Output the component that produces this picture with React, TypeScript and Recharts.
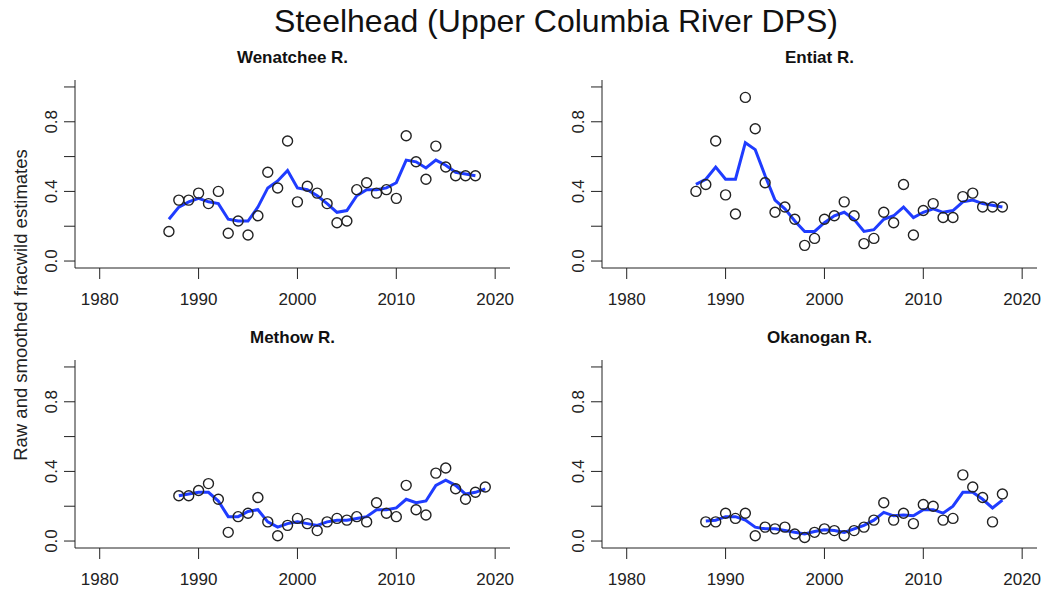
import { ComposedChart, Line, Scatter, XAxis, YAxis } from "recharts";

const FONT = "'Liberation Sans', Arial, sans-serif";

const yearTicks = [1980, 1990, 2000, 2010, 2020];
const valueTicks = [0, 0.2, 0.4, 0.6, 0.8, 1.0];
const labeledValues = [0, 0.4, 0.8];

// Wenatchee R.
const wenYears = [1987, 1988, 1989, 1990, 1991, 1992, 1993, 1994, 1995, 1996, 1997, 1998, 1999, 2000, 2001, 2002, 2003, 2004, 2005, 2006, 2007, 2008, 2009, 2010, 2011, 2012, 2013, 2014, 2015, 2016, 2017, 2018];
const wenRaw = [0.17, 0.35, 0.35, 0.39, 0.33, 0.4, 0.16, 0.23, 0.15, 0.26, 0.51, 0.42, 0.69, 0.34, 0.43, 0.39, 0.33, 0.22, 0.23, 0.41, 0.45, 0.39, 0.41, 0.36, 0.72, 0.57, 0.47, 0.66, 0.54, 0.49, 0.49, 0.49];
const wenSmooth = [0.24, 0.31, 0.34, 0.36, 0.34, 0.33, 0.24, 0.23, 0.23, 0.31, 0.42, 0.46, 0.52, 0.42, 0.41, 0.375, 0.33, 0.28, 0.29, 0.375, 0.41, 0.41, 0.42, 0.45, 0.58, 0.57, 0.535, 0.58, 0.55, 0.51, 0.5, 0.49];

// Entiat R.
const entYears = [1987, 1988, 1989, 1990, 1991, 1992, 1993, 1994, 1995, 1996, 1997, 1998, 1999, 2000, 2001, 2002, 2003, 2004, 2005, 2006, 2007, 2008, 2009, 2010, 2011, 2012, 2013, 2014, 2015, 2016, 2017, 2018];
const entRaw = [0.4, 0.44, 0.69, 0.38, 0.27, 0.94, 0.76, 0.45, 0.28, 0.31, 0.24, 0.09, 0.13, 0.24, 0.26, 0.34, 0.26, 0.1, 0.13, 0.28, 0.22, 0.44, 0.15, 0.29, 0.33, 0.25, 0.25, 0.37, 0.39, 0.31, 0.31, 0.31];
const entSmooth = [0.44, 0.47, 0.54, 0.47, 0.47, 0.68, 0.64, 0.49, 0.35, 0.3, 0.23, 0.17, 0.17, 0.22, 0.26, 0.28, 0.24, 0.17, 0.18, 0.24, 0.26, 0.31, 0.25, 0.28, 0.3, 0.28, 0.29, 0.34, 0.35, 0.33, 0.32, 0.31];

// Methow R.
const metYears = [1988, 1989, 1990, 1991, 1992, 1993, 1994, 1995, 1996, 1997, 1998, 1999, 2000, 2001, 2002, 2003, 2004, 2005, 2006, 2007, 2008, 2009, 2010, 2011, 2012, 2013, 2014, 2015, 2016, 2017, 2018, 2019];
const metRaw = [0.26, 0.26, 0.29, 0.33, 0.24, 0.05, 0.14, 0.16, 0.25, 0.11, 0.03, 0.09, 0.13, 0.1, 0.06, 0.11, 0.13, 0.12, 0.14, 0.11, 0.22, 0.16, 0.14, 0.32, 0.18, 0.15, 0.39, 0.42, 0.3, 0.24, 0.28, 0.31];
const metSmooth = [0.26, 0.27, 0.28, 0.28, 0.23, 0.14, 0.14, 0.17, 0.18, 0.11, 0.08, 0.1, 0.11, 0.1, 0.09, 0.11, 0.12, 0.12, 0.13, 0.14, 0.18, 0.18, 0.19, 0.24, 0.22, 0.23, 0.32, 0.35, 0.32, 0.27, 0.28, 0.3];

// Okanogan R.
const okaYears = [1988, 1989, 1990, 1991, 1992, 1993, 1994, 1995, 1996, 1997, 1998, 1999, 2000, 2001, 2002, 2003, 2004, 2005, 2006, 2007, 2008, 2009, 2010, 2011, 2012, 2013, 2014, 2015, 2016, 2017, 2018];
const okaRaw = [0.11, 0.11, 0.16, 0.13, 0.16, 0.03, 0.08, 0.07, 0.08, 0.04, 0.02, 0.05, 0.07, 0.06, 0.03, 0.06, 0.08, 0.12, 0.22, 0.12, 0.16, 0.1, 0.21, 0.2, 0.12, 0.13, 0.38, 0.31, 0.25, 0.11, 0.27];
const okaSmooth = [0.115, 0.12, 0.14, 0.14, 0.12, 0.08, 0.07, 0.07, 0.06, 0.05, 0.04, 0.055, 0.065, 0.06, 0.05, 0.07, 0.09, 0.12, 0.165, 0.145, 0.15, 0.145, 0.18, 0.18, 0.16, 0.2, 0.28, 0.28, 0.24, 0.19, 0.235];

const toRows = (years: number[], raw: number[], smooth: number[]) =>
  years.map((year, i) => ({ year, raw: raw[i], smooth: smooth[i] }));

const AXIS = "#222";

function XTick(props: any) {
  const { x, y, payload } = props;
  return (
    <text x={x} y={y} dy={24} textAnchor="middle" fontSize={17} fill="#222" fontFamily={FONT}>
      {payload.value}
    </text>
  );
}

function YTick(props: any) {
  const { x, y, payload } = props;
  if (!labeledValues.some((v) => Math.abs(v - payload.value) < 1e-9)) return null;
  const tx = x - 5;
  return (
    <text x={tx} y={y} textAnchor="middle" fontSize={17} fill="#222" fontFamily={FONT} transform={`rotate(-90, ${tx}, ${y})`}>
      {payload.value.toFixed(1)}
    </text>
  );
}

function Circle(props: any) {
  const { cx, cy } = props;
  if (cx == null || cy == null) return null;
  return <circle cx={cx} cy={cy} r={5} fill="none" stroke="#222" strokeWidth={1.4} />;
}

function Panel({ left, top, rows }: { left: number; top: number; rows: any[] }) {
  return (
    <div style={{ position: "absolute", left, top }}>
      <ComposedChart width={520} height={283} data={rows} margin={{ top: 45, right: 10, left: 0, bottom: 0 }}>
        <XAxis
          dataKey="year"
          type="number"
          domain={[1977.5, 2021.5]}
          ticks={yearTicks}
          allowDataOverflow
          height={50}
          tickSize={11}
          stroke={AXIS}
          tick={<XTick />}
        />
        <YAxis
          type="number"
          domain={[-0.04, 1.04]}
          ticks={valueTicks}
          allowDataOverflow
          width={75}
          tickSize={11}
          stroke={AXIS}
          tick={<YTick />}
        />
        <Scatter dataKey="raw" shape={<Circle />} isAnimationActive={false} />
        <Line
          dataKey="smooth"
          type="linear"
          stroke="#1f3cff"
          strokeWidth={3}
          dot={false}
          activeDot={false}
          isAnimationActive={false}
        />
      </ComposedChart>
    </div>
  );
}

export default function App() {
  return (
    <div style={{ position: "absolute", left: 0, top: 0, width: 1045, height: 598, background: "#fff", fontFamily: FONT }}>
      <Panel left={0} top={35} rows={toRows(wenYears, wenRaw, wenSmooth)} />
      <Panel left={527} top={35} rows={toRows(entYears, entRaw, entSmooth)} />
      <Panel left={0} top={315} rows={toRows(metYears, metRaw, metSmooth)} />
      <Panel left={527} top={315} rows={toRows(okaYears, okaRaw, okaSmooth)} />
      <svg width={1045} height={598} style={{ position: "absolute", left: 0, top: 0, pointerEvents: "none" }}>
        <text x={556} y={32} textAnchor="middle" fontSize={32} fill="#111" fontFamily={FONT}>
          Steelhead (Upper Columbia River DPS)
        </text>
        <text x={292.5} y={63} textAnchor="middle" fontSize={17} fontWeight="bold" fill="#111" fontFamily={FONT}>
          Wenatchee R.
        </text>
        <text x={819.5} y={63} textAnchor="middle" fontSize={17} fontWeight="bold" fill="#111" fontFamily={FONT}>
          Entiat R.
        </text>
        <text x={292.5} y={343} textAnchor="middle" fontSize={17} fontWeight="bold" fill="#111" fontFamily={FONT}>
          Methow R.
        </text>
        <text x={819.5} y={343} textAnchor="middle" fontSize={17} fontWeight="bold" fill="#111" fontFamily={FONT}>
          Okanogan R.
        </text>
        <text x={26.5} y={305} textAnchor="middle" fontSize={18.5} fill="#222" fontFamily={FONT} transform="rotate(-90, 26.5, 305)">
          Raw and smoothed fracwild estimates
        </text>
      </svg>
    </div>
  );
}
